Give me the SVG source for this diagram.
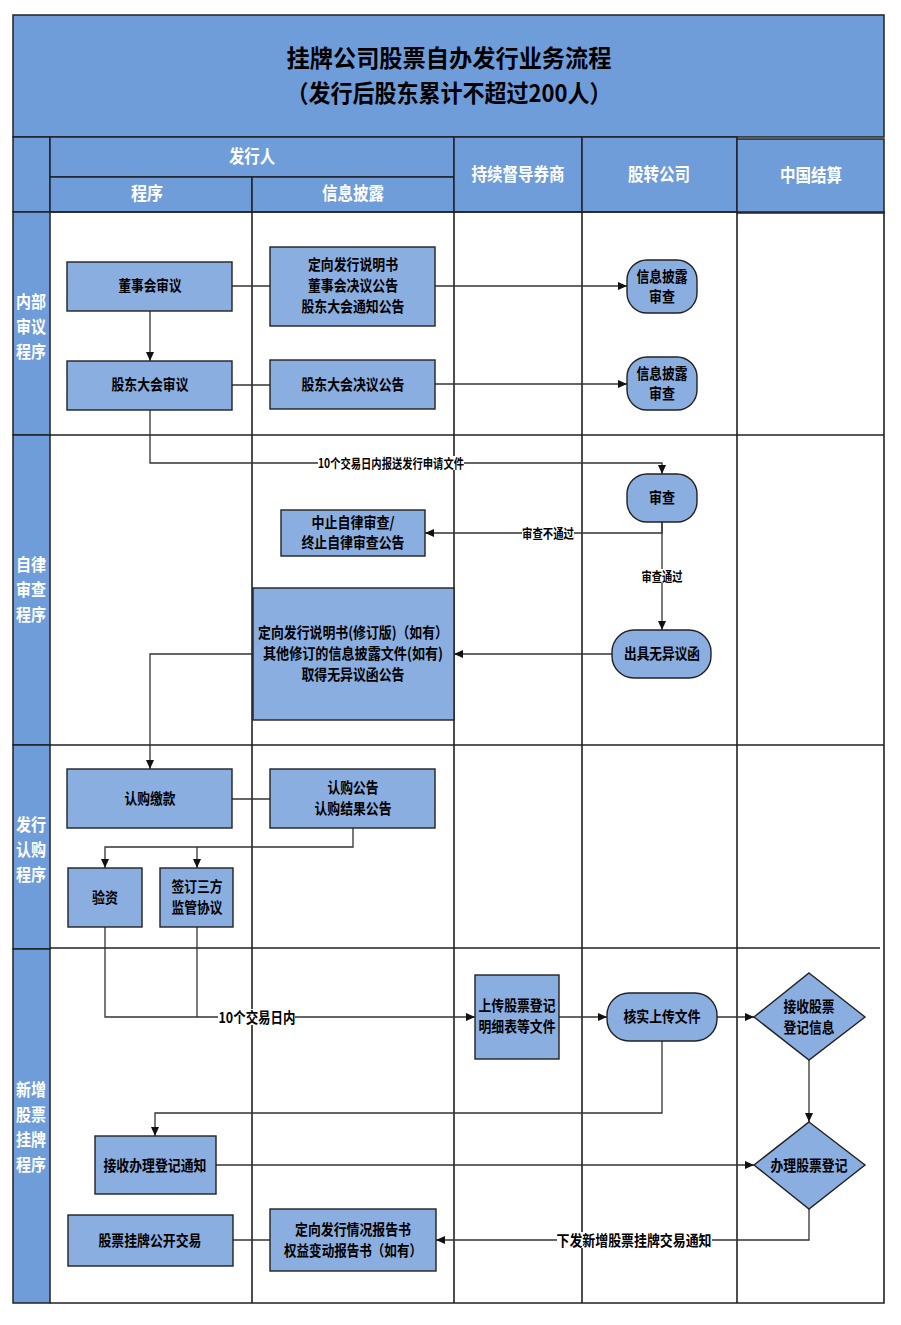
<svg xmlns="http://www.w3.org/2000/svg" width="901" height="1325" viewBox="0 0 901 1325">
<style>
.hd{fill:#6F9DD9;stroke:#222;stroke-width:1.5}
.nd{fill:#8AAEE0;stroke:#222;stroke-width:1.4}
.grid{stroke:#222;stroke-width:1.6;fill:none}
.cn{stroke:#333;stroke-width:1.3;fill:none}
.t{font-family:"Noto Sans CJK SC","Liberation Sans",sans-serif;font-weight:bold;font-size:15px;text-anchor:middle;fill:#000}
.w{fill:#fff;font-size:18px}
.lab{font-size:17px;fill:#fff}
.sm{font-size:13px}
.ttl{font-size:24px}
</style>
<defs>
<marker id="ar" viewBox="0 0 9 8" refX="9" refY="4" markerWidth="9" markerHeight="8" markerUnits="userSpaceOnUse" orient="auto">
<path d="M0,0 L9,4 L0,8 z" fill="#111"/>
</marker>
</defs>
<rect x="0" y="0" width="901" height="1325" fill="#fff"/>

<g id="frame">
<rect class="hd" x="13" y="15" width="871" height="122"/>
<text class="t ttl" x="449" y="67" textLength="325" lengthAdjust="spacingAndGlyphs">挂牌公司股票自办发行业务流程</text>
<text class="t ttl" x="449" y="102" textLength="325" lengthAdjust="spacingAndGlyphs">（发行后股东累计不超过200人）</text>
<rect class="hd" x="13" y="137" width="37" height="75"/>
<rect class="hd" x="50" y="137" width="404" height="40"/>
<rect class="hd" x="50" y="177" width="202" height="35"/>
<rect class="hd" x="252" y="177" width="202" height="35"/>
<rect class="hd" x="454" y="137" width="128" height="75"/>
<rect class="hd" x="582" y="137" width="155" height="75"/>
<rect class="hd" x="737" y="139" width="147" height="74"/>
<text class="t w" x="252" y="163" textLength="46" lengthAdjust="spacingAndGlyphs">发行人</text>
<text class="t w" x="147" y="200" textLength="32" lengthAdjust="spacingAndGlyphs">程序</text>
<text class="t w" x="353" y="200" textLength="62" lengthAdjust="spacingAndGlyphs">信息披露</text>
<text class="t w" x="518" y="181" textLength="93" lengthAdjust="spacingAndGlyphs">持续督导券商</text>
<text class="t w" x="659" y="181" textLength="62" lengthAdjust="spacingAndGlyphs">股转公司</text>
<text class="t w" x="811" y="182" textLength="62" lengthAdjust="spacingAndGlyphs">中国结算</text>
<rect class="hd" x="13" y="212" width="37" height="223"/>
<rect class="hd" x="13" y="435" width="37" height="310"/>
<rect class="hd" x="13" y="745" width="37" height="204"/>
<rect class="hd" x="13" y="949" width="37" height="354"/>
<path class="grid" d="M50,212 H884 V1303 H50 M252,212 V1303 M454,212 V1303 M582,212 V1303 M737,212 V1303 M50,435 H884 M50,745 H884 M50,948 H880"/>
<text class="t lab" x="31" y="308" textLength="30" lengthAdjust="spacingAndGlyphs">内部</text>
<text class="t lab" x="31" y="333" textLength="30" lengthAdjust="spacingAndGlyphs">审议</text>
<text class="t lab" x="31" y="358" textLength="30" lengthAdjust="spacingAndGlyphs">程序</text>
<text class="t lab" x="31" y="571" textLength="30" lengthAdjust="spacingAndGlyphs">自律</text>
<text class="t lab" x="31" y="596" textLength="30" lengthAdjust="spacingAndGlyphs">审查</text>
<text class="t lab" x="31" y="621" textLength="30" lengthAdjust="spacingAndGlyphs">程序</text>
<text class="t lab" x="31" y="831" textLength="30" lengthAdjust="spacingAndGlyphs">发行</text>
<text class="t lab" x="31" y="856" textLength="30" lengthAdjust="spacingAndGlyphs">认购</text>
<text class="t lab" x="31" y="881" textLength="30" lengthAdjust="spacingAndGlyphs">程序</text>
<text class="t lab" x="31" y="1096" textLength="30" lengthAdjust="spacingAndGlyphs">新增</text>
<text class="t lab" x="31" y="1121" textLength="30" lengthAdjust="spacingAndGlyphs">股票</text>
<text class="t lab" x="31" y="1146" textLength="30" lengthAdjust="spacingAndGlyphs">挂牌</text>
<text class="t lab" x="31" y="1171" textLength="30" lengthAdjust="spacingAndGlyphs">程序</text>
</g>

<g id="connectors">
<path class="cn" d="M232,286 H270"/>
<path class="cn" d="M435,286 H627" marker-end="url(#ar)"/>
<path class="cn" d="M150,311 V361" marker-end="url(#ar)"/>
<path class="cn" d="M232,385 H270"/>
<path class="cn" d="M435,384 H627" marker-end="url(#ar)"/>
<path class="cn" d="M150,410 V463 H662 V474" marker-end="url(#ar)"/>
<path class="cn" d="M662,522 V533 H425" marker-end="url(#ar)"/>
<path class="cn" d="M662,522 V630" marker-end="url(#ar)"/>
<path class="cn" d="M612,654 H454" marker-end="url(#ar)"/>
<path class="cn" d="M253,654 H150 V769" marker-end="url(#ar)"/>
<path class="cn" d="M232,799 H270"/>
<path class="cn" d="M353,828 V847 H105 V868" marker-end="url(#ar)"/>
<path class="cn" d="M197,847 V868" marker-end="url(#ar)"/>
<path class="cn" d="M105,927 V1017 H475" marker-end="url(#ar)"/>
<path class="cn" d="M197,927 V1017"/>
<path class="cn" d="M559,1017 H607" marker-end="url(#ar)"/>
<path class="cn" d="M717,1017 H754" marker-end="url(#ar)"/>
<path class="cn" d="M809,1060 V1122" marker-end="url(#ar)"/>
<path class="cn" d="M662,1041 V1113 H155 V1136" marker-end="url(#ar)"/>
<path class="cn" d="M216,1165 H754" marker-end="url(#ar)"/>
<path class="cn" d="M809,1209 V1240 H436" marker-end="url(#ar)"/>
<path class="cn" d="M233,1240 H270"/>
<rect x="318" y="456" width="146" height="14" fill="#fff"/>
<text class="t sm" x="391" y="468" textLength="146" lengthAdjust="spacingAndGlyphs">10个交易日内报送发行申请文件</text>
<rect x="522" y="526" width="52" height="14" fill="#fff"/>
<text class="t sm" x="548" y="538" textLength="52" lengthAdjust="spacingAndGlyphs">审查不通过</text>
<rect x="641" y="569" width="43" height="14" fill="#fff"/>
<text class="t sm" x="662" y="581" textLength="41" lengthAdjust="spacingAndGlyphs">审查通过</text>
<rect x="218" y="1009" width="77" height="16" fill="#fff"/>
<text class="t" x="257" y="1023" textLength="77" lengthAdjust="spacingAndGlyphs">10个交易日内</text>
<rect x="557" y="1232" width="155" height="16" fill="#fff"/>
<text class="t" x="634" y="1246" textLength="155" lengthAdjust="spacingAndGlyphs">下发新增股票挂牌交易通知</text>
</g>

<g id="n1"><rect class="nd" x="67" y="262" width="165" height="49"/>
<text class="t" x="150" y="291" textLength="63" lengthAdjust="spacingAndGlyphs">董事会审议</text></g>
<g id="n2"><rect class="nd" x="67" y="361" width="165" height="49"/>
<text class="t" x="150" y="390" textLength="77" lengthAdjust="spacingAndGlyphs">股东大会审议</text></g>
<g id="n3"><rect class="nd" x="270" y="247" width="165" height="79"/>
<text class="t" x="353" y="270" textLength="90" lengthAdjust="spacingAndGlyphs">定向发行说明书</text>
<text class="t" x="353" y="291" textLength="90" lengthAdjust="spacingAndGlyphs">董事会决议公告</text>
<text class="t" x="353" y="312" textLength="103" lengthAdjust="spacingAndGlyphs">股东大会通知公告</text></g>
<g id="n4"><rect class="nd" x="270" y="360" width="165" height="49"/>
<text class="t" x="353" y="390" textLength="103" lengthAdjust="spacingAndGlyphs">股东大会决议公告</text></g>
<g id="n5"><rect class="nd" x="627" y="260" width="70" height="53" rx="20" ry="20"/>
<text class="t" x="662" y="282" textLength="51" lengthAdjust="spacingAndGlyphs">信息披露</text>
<text class="t" x="662" y="302" textLength="26" lengthAdjust="spacingAndGlyphs">审查</text></g>
<g id="n6"><rect class="nd" x="627" y="357" width="70" height="53" rx="20" ry="20"/>
<text class="t" x="662" y="379" textLength="51" lengthAdjust="spacingAndGlyphs">信息披露</text>
<text class="t" x="662" y="399" textLength="26" lengthAdjust="spacingAndGlyphs">审查</text></g>
<g id="n7"><rect class="nd" x="627" y="474" width="70" height="48" rx="20" ry="20"/>
<text class="t" x="662" y="503" textLength="26" lengthAdjust="spacingAndGlyphs">审查</text></g>
<g id="n8"><rect class="nd" x="281" y="510" width="144" height="46"/>
<text class="t" x="353" y="528" textLength="83" lengthAdjust="spacingAndGlyphs">中止自律审查/</text>
<text class="t" x="353" y="548" textLength="103" lengthAdjust="spacingAndGlyphs">终止自律审查公告</text></g>
<g id="n9"><rect class="nd" x="612" y="630" width="99" height="48" rx="22" ry="22"/>
<text class="t" x="662" y="659" textLength="76" lengthAdjust="spacingAndGlyphs">出具无异议函</text></g>
<g id="n10"><rect class="nd" x="253" y="588" width="201" height="132"/>
<text class="t" x="353" y="638" textLength="190" lengthAdjust="spacingAndGlyphs">定向发行说明书(修订版)（如有）</text>
<text class="t" x="353" y="659" textLength="180" lengthAdjust="spacingAndGlyphs">其他修订的信息披露文件(如有)</text>
<text class="t" x="353" y="680" textLength="103" lengthAdjust="spacingAndGlyphs">取得无异议函公告</text></g>
<g id="n11"><rect class="nd" x="67" y="769" width="165" height="59"/>
<text class="t" x="150" y="804" textLength="51" lengthAdjust="spacingAndGlyphs">认购缴款</text></g>
<g id="n12"><rect class="nd" x="270" y="769" width="165" height="59"/>
<text class="t" x="353" y="793" textLength="51" lengthAdjust="spacingAndGlyphs">认购公告</text>
<text class="t" x="353" y="814" textLength="77" lengthAdjust="spacingAndGlyphs">认购结果公告</text></g>
<g id="n13"><rect class="nd" x="68" y="868" width="74" height="59"/>
<text class="t" x="105" y="903" textLength="26" lengthAdjust="spacingAndGlyphs">验资</text></g>
<g id="n14"><rect class="nd" x="160" y="868" width="73" height="59"/>
<text class="t" x="197" y="892" textLength="51" lengthAdjust="spacingAndGlyphs">签订三方</text>
<text class="t" x="197" y="913" textLength="51" lengthAdjust="spacingAndGlyphs">监管协议</text></g>
<g id="n15"><rect class="nd" x="475" y="975" width="84" height="84"/>
<text class="t" x="517" y="1011" textLength="77" lengthAdjust="spacingAndGlyphs">上传股票登记</text>
<text class="t" x="517" y="1032" textLength="77" lengthAdjust="spacingAndGlyphs">明细表等文件</text></g>
<g id="n16"><rect class="nd" x="607" y="993" width="110" height="48" rx="22" ry="22"/>
<text class="t" x="662" y="1022" textLength="77" lengthAdjust="spacingAndGlyphs">核实上传文件</text></g>
<g id="n17"><polygon class="nd" points="809,973 865,1017 809,1060 754,1017"/>
<text class="t" x="809" y="1012" textLength="51" lengthAdjust="spacingAndGlyphs">接收股票</text>
<text class="t" x="809" y="1033" textLength="51" lengthAdjust="spacingAndGlyphs">登记信息</text></g>
<g id="n18"><polygon class="nd" points="809,1122 865,1165 809,1209 754,1165"/>
<text class="t" x="809" y="1171" textLength="77" lengthAdjust="spacingAndGlyphs">办理股票登记</text></g>
<g id="n19"><rect class="nd" x="95" y="1136" width="121" height="58"/>
<text class="t" x="155" y="1171" textLength="103" lengthAdjust="spacingAndGlyphs">接收办理登记通知</text></g>
<g id="n20"><rect class="nd" x="68" y="1215" width="165" height="51"/>
<text class="t" x="150" y="1246" textLength="103" lengthAdjust="spacingAndGlyphs">股票挂牌公开交易</text></g>
<g id="n21"><rect class="nd" x="270" y="1209" width="166" height="62"/>
<text class="t" x="353" y="1235" textLength="116" lengthAdjust="spacingAndGlyphs">定向发行情况报告书</text>
<text class="t" x="353" y="1256" textLength="138" lengthAdjust="spacingAndGlyphs">权益变动报告书（如有）</text></g>
</svg>
